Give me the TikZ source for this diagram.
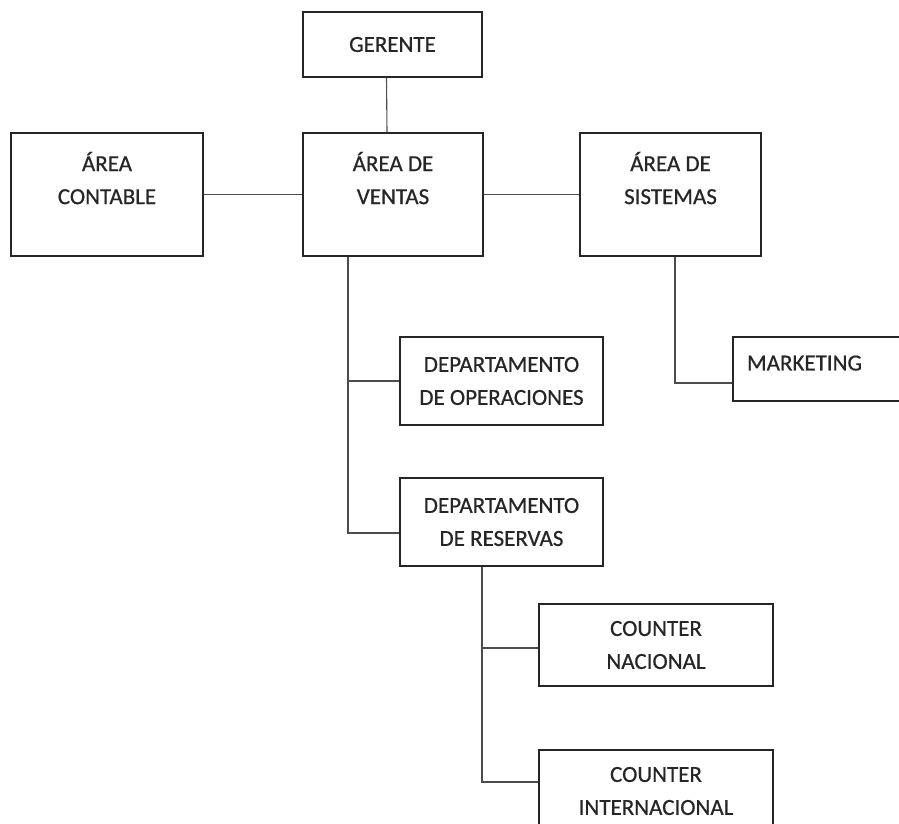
\documentclass[tikz,border=0pt]{standalone}
\usepackage{fontspec}
\setmainfont{Carlito}
\newfontfamily\cajafont{Carlito}[FakeBold=0.6]
\usetikzlibrary{calc}

\tikzset{
  caja/.style={draw=black!85, line width=1.3pt, align=center, inner sep=0pt,
    font=\cajafont\fontsize{23}{33}\selectfont, text=black!85},
  linea/.style={draw=black!70, line width=1.1pt}
}

\begin{document}
\begin{tikzpicture}[x=1pt,y=-1pt]
\clip (0,0) rectangle (899,823);
\fill[white] (0,0) rectangle (899,823);
% primer nivel
\node[caja, minimum width=179pt, minimum height=65pt] (gerente) at (392.5,44.5) {GERENTE};
\node[caja, minimum width=192pt, minimum height=123pt] (contable) at (107,194.5) {ÁREA\\CONTABLE\\\mbox{}};
\node[caja, minimum width=180pt, minimum height=123pt] (ventas) at (393,194.5) {ÁREA DE\\VENTAS\\\mbox{}};
\node[caja, minimum width=181pt, minimum height=123pt] (sistemas) at (670.5,194.5) {ÁREA DE\\SISTEMAS\\\mbox{}};
% departamentos
\node[caja, minimum width=203pt, minimum height=88pt] (operaciones) at (501.5,381) {DEPARTAMENTO\\DE OPERACIONES};
\node[caja, minimum width=203pt, minimum height=88pt] (reservas) at (501.5,522) {DEPARTAMENTO\\DE RESERVAS};
\node[caja, text width=175pt, align=left, inner xsep=14pt, minimum height=64pt] (marketing) at (834.5,369) {MARKETING\\[-21pt]\mbox{}};
\node[caja, minimum width=234pt, minimum height=82pt] (nacional) at (656,645) {COUNTER\\NACIONAL};
\node[caja, minimum width=234pt, minimum height=82pt] (internacional) at (656,791) {COUNTER\\INTERNACIONAL};

% lineas
\draw[linea] ([xshift=-6pt]gerente.south) -- ([xshift=-6pt]ventas.north);
\draw[linea] (contable.east) -- (ventas.west);
\draw[linea] (ventas.east) -- (sistemas.west);
\draw[linea] ([xshift=4.5pt]sistemas.south) |- ([yshift=-14pt]marketing.west);
\coordinate (troncoV) at ([xshift=-45pt]ventas.south);
\draw[linea] (troncoV) |- ([yshift=-11pt]reservas.west);
\draw[linea] (operaciones.west) -- (operaciones.west -| troncoV);
\coordinate (troncoR) at ([xshift=-19.5pt]reservas.south);
\draw[linea] (troncoR) |- ([yshift=9pt]internacional.west);
\draw[linea] ([yshift=-3pt]nacional.west) -- ([yshift=-3pt]nacional.west -| troncoR);
\end{tikzpicture}
\end{document}
